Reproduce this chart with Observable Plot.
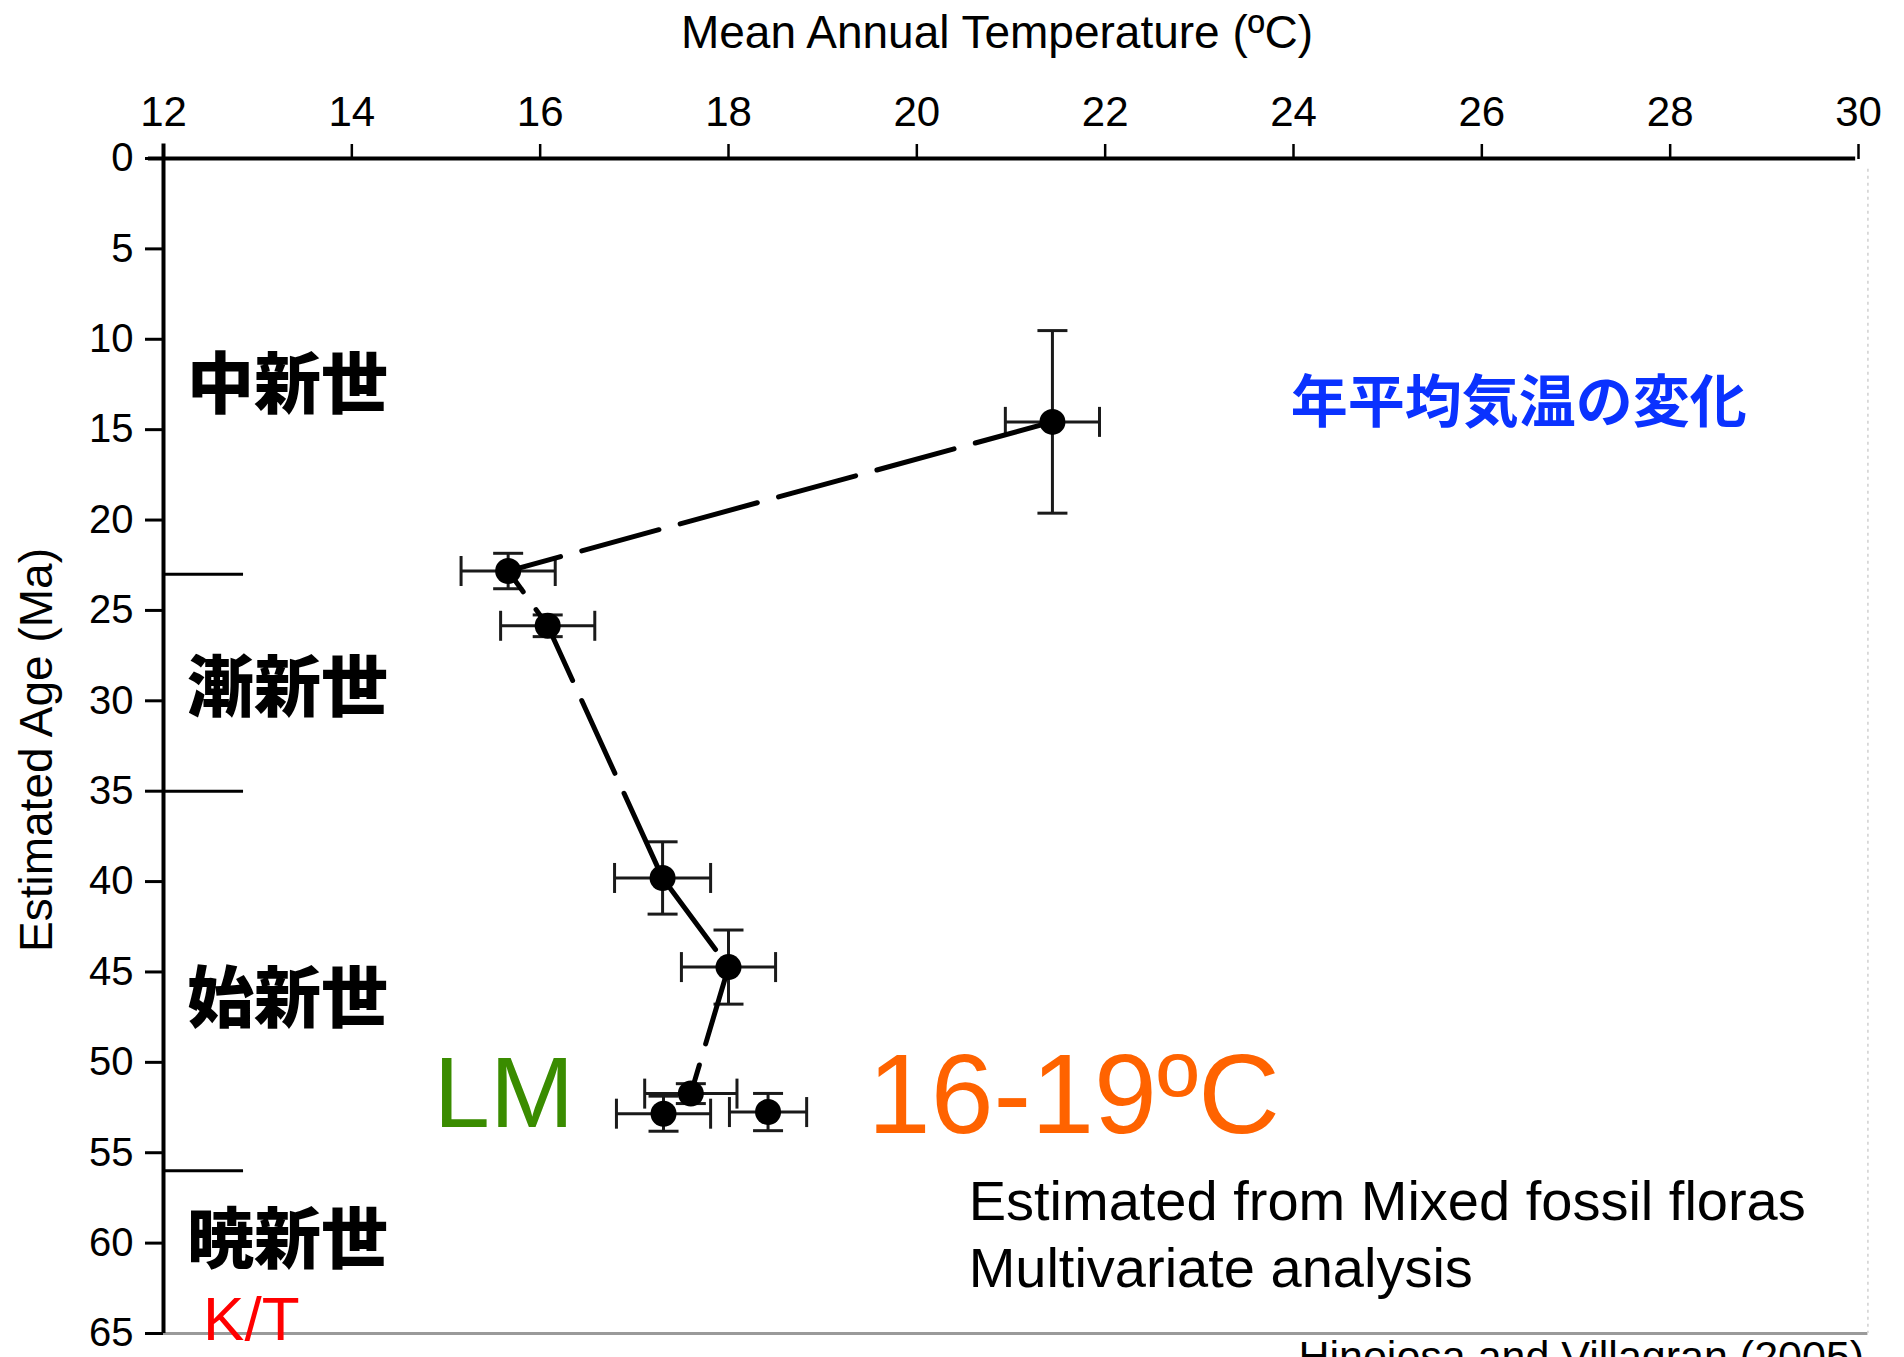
<!DOCTYPE html>
<html>
<head>
<meta charset="utf-8">
<script src="https://cdn.jsdelivr.net/npm/d3@7"></script>
<script src="https://cdn.jsdelivr.net/npm/@observablehq/plot@0.6"></script>
<style>
  html, body { margin: 0; padding: 0; background: #ffffff; }
  #chart svg { display: block; }
</style>
</head>
<body>
<div id="chart"></div>
<script>
// ---- data ----
const temperature = [21.44, 15.66, 16.08, 17.30, 18.00, 17.60, 17.31, 18.42]; // Mean annual temperature (ºC)
const age         = [14.57, 22.82, 25.85, 39.80, 44.73, 51.73, 52.84, 52.75]; // Estimated age (Ma)
const tempError   = [0.50, 0.50, 0.50, 0.51, 0.50, 0.49, 0.50, 0.41];
const ageError    = [5.05, 0.98, 0.60, 2.00, 2.05, 0.55, 0.97, 1.03];
const joined      = [true, true, true, true, true, true, false, false]; // points on the dashed trend line

const xTicks = [12, 14, 16, 18, 20, 22, 24, 26, 28, 30];
const yTicks = [0, 5, 10, 15, 20, 25, 30, 35, 40, 45, 50, 55, 60, 65];

const epochNames      = ["中新世", "漸新世", "始新世", "暁新世"];
const epochLabelAge   = [12.6, 29.4, 46.6, 59.9];
const epochBoundaries = [23, 35, 56];

const titleText  = "Mean Annual Temperature (ºC)";
const yLabelText = "Estimated Age (Ma)";
const blueNote   = "年平均気温の変化";
const greenNote  = "LM";
const orangeNote = "16-19ºC";
const methodNote = ["Estimated from Mixed fossil floras", "Multivariate analysis"];
const ktNote     = "K/T";
const sourceNote = "Hinojosa and Villagran (2005)";

// ---- build table ----
const points = temperature.map((t, i) => ({
  t, age: age[i], et: tempError[i], ea: ageError[i], joined: joined[i]
}));

// cap symbols (pixel sized)
const vbar = { draw(ctx, size) { const h = Math.sqrt(size / Math.PI); ctx.moveTo(0, -h); ctx.lineTo(0, h); } };
const hbar = { draw(ctx, size) { const h = Math.sqrt(size / Math.PI); ctx.moveTo(-h, 0); ctx.lineTo(h, 0); } };

const sans = "'Liberation Sans', Arial, Helvetica, sans-serif";
const cjk  = "'Noto Sans CJK JP', 'Noto Sans CJK SC', sans-serif";

const chart = Plot.plot({
  width: 1904,
  height: 1357,
  marginLeft: 163,
  marginRight: 46,
  marginTop: 158,
  marginBottom: 24,
  style: { fontFamily: sans, background: "#ffffff", color: "#000" },
  x: { domain: [12, 30] },
  y: { domain: [0, 65], reverse: true },
  marks: [
    // frame pieces
    Plot.ruleY([65], { x1: 11.9, x2: 30.1, stroke: "#9a9a9a", strokeWidth: 3 }),
    Plot.ruleX([30.1], { y1: 0.6, y2: 65, stroke: "#d0d0d0", strokeWidth: 1.5, strokeDasharray: "3,4" }),
    Plot.ruleY([0], { x1: 11.84, x2: 29.97, stroke: "#000", strokeWidth: 4 }),
    Plot.ruleX([12], { y1: -0.8, y2: 65, stroke: "#000", strokeWidth: 4 }),
    Plot.ruleY(epochBoundaries, { x1: 12, x2: 12.85, stroke: "#000", strokeWidth: 3 }),

    // axes
    Plot.axisX({ anchor: "top", ticks: xTicks, tickSize: 15, tickPadding: 18, fontSize: 42, strokeWidth: 2.5, label: null, tickFormat: d => String(d) }),
    Plot.axisY({ anchor: "left", ticks: yTicks, tickSize: 18, tickPadding: 12, fontSize: 40, strokeWidth: 3, label: null, tickFormat: d => String(d) }),

    // axis titles
    Plot.text([titleText], { frameAnchor: "top", dx: -14, dy: -125, fontSize: 46, fill: "#000", lineAnchor: "middle" }),
    Plot.text([yLabelText], { frameAnchor: "left", textAnchor: "middle", lineAnchor: "middle", rotate: -90, dx: -126, dy: 4, fontSize: 46, fill: "#000" }),

    // error bars
    Plot.link(points, { x1: d => d.t - d.et, x2: d => d.t + d.et, y1: "age", y2: "age", stroke: "#1a1a1a", strokeWidth: 3 }),
    Plot.link(points, { x1: "t", x2: "t", y1: d => d.age - d.ea, y2: d => d.age + d.ea, stroke: "#1a1a1a", strokeWidth: 3 }),
    Plot.dot(points, { x: d => d.t - d.et, y: "age", symbol: vbar, r: 15, stroke: "#1a1a1a", strokeWidth: 3, fill: "none" }),
    Plot.dot(points, { x: d => d.t + d.et, y: "age", symbol: vbar, r: 15, stroke: "#1a1a1a", strokeWidth: 3, fill: "none" }),
    Plot.dot(points, { x: "t", y: d => d.age - d.ea, symbol: hbar, r: 15, stroke: "#1a1a1a", strokeWidth: 3, fill: "none" }),
    Plot.dot(points, { x: "t", y: d => d.age + d.ea, symbol: hbar, r: 15, stroke: "#1a1a1a", strokeWidth: 3, fill: "none" }),

    // trend line
    Plot.line(points.filter(d => d.joined), { x: "t", y: "age", stroke: "#000", strokeWidth: 5, strokeDasharray: "80,22", curve: "linear" }),

    // points
    Plot.dot(points, { x: "t", y: "age", r: 13, fill: "#000", stroke: "none" }),

    // epoch labels
    Plot.text(epochNames, { x: 12.25, y: (d, i) => epochLabelAge[i], text: d => d, textAnchor: "start", fontSize: 67, fontWeight: 900, fontFamily: cjk, fill: "#000" }),

    // annotations
    Plot.text([blueNote], { x: 23.97, y: 13.55, textAnchor: "start", fontSize: 57, fontWeight: "bold", fontFamily: cjk, fill: "#0a32ff" }),
    Plot.text([greenNote], { x: 14.87, y: 53.6, textAnchor: "start", lineAnchor: "bottom", fontSize: 101, fill: "#3a8c00" }),
    Plot.text([orangeNote], { x: 19.48, y: 53.93, textAnchor: "start", lineAnchor: "bottom", fontSize: 113, fill: "#ff6300" }),
    Plot.text([methodNote[0]], { x: 20.55, y: 58.74, textAnchor: "start", lineAnchor: "bottom", fontSize: 56, fill: "#000" }),
    Plot.text([methodNote[1]], { x: 20.55, y: 62.45, textAnchor: "start", lineAnchor: "bottom", fontSize: 56, fill: "#000" }),
    Plot.text([ktNote], { x: 12.42, y: 65.35, textAnchor: "start", lineAnchor: "bottom", fontSize: 62, fill: "#ff0000" }),
    Plot.text([sourceNote], { x: 30.06, y: 67.1, textAnchor: "end", lineAnchor: "bottom", fontSize: 43, fill: "#000" })
  ]
});

document.getElementById("chart").appendChild(chart);
</script>
</body>
</html>
